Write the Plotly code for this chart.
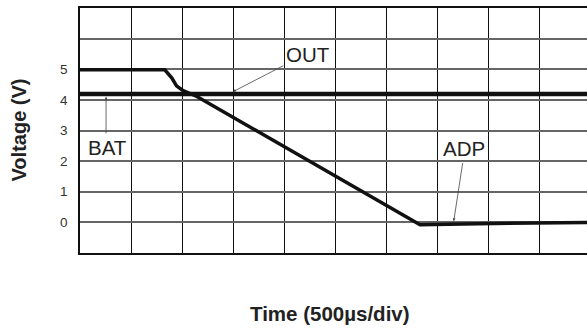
import plotly.graph_objects as go

# Time in divisions (500 µs/div), voltage in V
bat_x = [0.0, 9.93]
bat_y = [4.19, 4.19]

adp_x = [0.0, 1.66, 1.80, 1.89, 2.02, 2.29, 6.66, 7.5, 9.93]
adp_y = [4.98, 4.98, 4.71, 4.46, 4.30, 4.11, -0.08, -0.05, 0.0]

y_ticks = [-1, 0, 1, 2, 3, 4, 5, 6, 7]
y_ticktext = ["", "0", "1", "2", "3", "4", "5", "", ""]
x_grid = list(range(0, 11))

FONT = "Liberation Sans, Arial, sans-serif"

W, H = 587, 329
L, R, T, B = 80, 0, 8, 76
PW, PH = W - L - R, H - T - B


def px(xp):
    return (xp - L) / PW


def py(yp):
    return (H - B - yp) / PH


fig = go.Figure()
fig.add_trace(go.Scatter(x=bat_x, y=bat_y, mode="lines",
                         line=dict(color="#111111", width=4.5), hoverinfo="skip"))
fig.add_trace(go.Scatter(x=adp_x, y=adp_y, mode="lines",
                         line=dict(color="#111111", width=3.5), hoverinfo="skip"))

# arrows (no text)
for (hx, hy, tx, ty) in [(3.0, 4.27, 4.01, 5.14), (0.51, 4.1, 0.51, 2.86), (7.32, 0.04, 7.5, 1.99)]:
    fig.add_annotation(x=hx, y=hy, ax=tx, ay=ty, xref="x", yref="y", axref="x", ayref="y",
                       text="", showarrow=True, arrowhead=2, arrowsize=0.7, arrowwidth=0.8,
                       arrowcolor="#444444")
for (tx, ty, t) in [(4.46, 5.47, "OUT"), (0.535, 2.44, "BAT"), (7.52, 2.40, "ADP")]:
    fig.add_annotation(x=tx, y=ty, xref="x", yref="y", text=t, showarrow=False,
                       font=dict(family=FONT, size=20.5, color="#222222"))

fig.add_annotation(x=px(18), y=py(130.5), xref="paper", yref="paper",
                   text="<b>Voltage (V)</b>", showarrow=False, textangle=-90,
                   xanchor="center", yanchor="middle",
                   font=dict(family=FONT, size=20, color="#222222"))
fig.add_annotation(x=px(330), y=py(313.7), xref="paper", yref="paper",
                   text="<b>Time (500µs/div)</b>", showarrow=False,
                   xanchor="center", yanchor="middle",
                   font=dict(family=FONT, size=20.5, color="#222222"))

fig.update_layout(
    width=W, height=H,
    margin=dict(l=L, r=R, t=T, b=B),
    paper_bgcolor="white", plot_bgcolor="white",
    showlegend=False,
    xaxis=dict(range=[0, 9.93], tickvals=x_grid, showticklabels=False, ticks="",
               showgrid=True, gridcolor="#111111", gridwidth=1.2, zeroline=False,
               showline=True, linecolor="#111111", linewidth=1.5, mirror=True,
               fixedrange=True),
    yaxis=dict(range=[-1, 7], tickvals=y_ticks, ticktext=y_ticktext, ticks="",
               showgrid=True, gridcolor="#666666", gridwidth=1.5, zeroline=False,
               showline=True, linecolor="#111111", linewidth=1.5, mirror=False,
               tickfont=dict(family=FONT, size=13.5, color="#333333"),
               ticklabelstandoff=8, fixedrange=True),
)

fig.write_html("out.html", config={"displayModeBar": False},
               post_script="document.body.style.margin='0';document.body.style.overflow='hidden';")
